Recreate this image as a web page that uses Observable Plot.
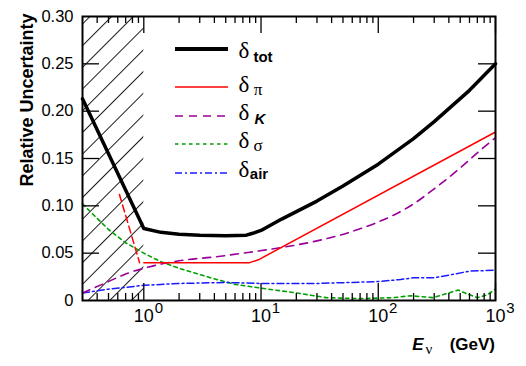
<!DOCTYPE html>
<html><head><meta charset="utf-8">
<script src="https://cdn.jsdelivr.net/npm/d3@7"></script>
<script src="https://cdn.jsdelivr.net/npm/@observablehq/plot@0.6"></script>
<style>body{margin:0;background:#fff;} svg{display:block}</style>
</head><body><div id="chart"></div>
<script>
// ---- data ----
const totE = [0.3, 1, 1.4, 2, 3, 5, 7.5, 8.5, 10, 15, 30, 50, 100, 200, 300, 600, 1000];
const totV = [0.213, 0.076, 0.072, 0.070, 0.069, 0.0685, 0.069, 0.071, 0.074, 0.086, 0.105, 0.121, 0.144, 0.171, 0.189, 0.222, 0.250];

const piE = [1, 8, 9.5, 1000];
const piV = [0.040, 0.040, 0.043, 0.178];
const piLowE = [0.62, 0.92];          // dashed part below 1 GeV
const piLowV = [0.112, 0.040];

const kE = [0.3, 0.5, 0.7, 1, 2, 4, 8, 15, 30, 60, 100, 150, 200, 300, 500, 700, 1000];
const kV = [0.008, 0.020, 0.028, 0.034, 0.042, 0.046, 0.051, 0.056, 0.063, 0.073, 0.083, 0.093, 0.102, 0.118, 0.140, 0.156, 0.172];

const sigE = [0.3, 0.5, 0.7, 1, 1.4, 2, 3.7, 6, 10, 20, 36, 70, 135, 188, 295, 480, 600, 700, 850, 1000];
const sigV = [0.102, 0.075, 0.061, 0.050, 0.041, 0.034, 0.024, 0.017, 0.013, 0.008, 0.003, 0.002, 0.003, 0.005, 0.003, 0.011, 0.006, 0.003, 0.006, 0.012];

const airE = [0.3, 0.5, 1, 2, 5, 10, 30, 100, 150, 200, 300, 450, 600, 1000];
const airV = [0.008, 0.012, 0.016, 0.018, 0.019, 0.018, 0.018, 0.020, 0.022, 0.024, 0.024, 0.028, 0.031, 0.032];

const hatchRange = [0.3, 1];          // excluded region (E < 1 GeV)
const xDomain = [0.3, 1000];
const yDomain = [0, 0.30];
const xDecades = [1, 10, 100, 1000];
const xExponents = ["0", "1", "2", "3"];
const xMinor = [0.4,0.5,0.6,0.7,0.8,0.9, 2,3,4,5,6,7,8,9, 20,30,40,50,60,70,80,90, 200,300,400,500,600,700,800,900];
const yTicks = [0, 0.05, 0.10, 0.15, 0.20, 0.25, 0.30];
const yInner = [0.05, 0.10, 0.15, 0.20, 0.25];
const legendSubs = ["tot", "π", "K", "σ", "air"];

// ---- layout ----
const W = 526, H = 366, mL = 82, mR = 31, mT = 16, mB = 66;
const FW = W - mL - mR, FH = H - mT - mB;
const zip = (E, V) => E.map((e, i) => ({E: e, v: V[i]}));
const font = "Liberation Sans, Arial, sans-serif";

const chart = Plot.plot({
  width: W, height: H,
  marginLeft: mL, marginRight: mR, marginTop: mT, marginBottom: mB,
  style: {fontFamily: font, background: "#fff", color: "#000"},
  x: {type: "log", domain: xDomain, axis: null},
  y: {domain: yDomain, axis: null},
  marks: [
    Plot.rect([hatchRange], {x1: d => d[0], x2: d => d[1], y1: yDomain[0], y2: yDomain[1], fill: "url(#hatch)"}),
    Plot.line(zip(sigE, sigV), {x: "E", y: "v", stroke: "#00a000", strokeWidth: 1.6, strokeDasharray: "3.5,3.5"}),
    Plot.line(zip(airE, airV), {x: "E", y: "v", stroke: "#1a1aff", strokeWidth: 1.5, strokeDasharray: "7,3,2,3"}),
    Plot.line(zip(kE, kV), {x: "E", y: "v", stroke: "#990099", strokeWidth: 1.6, strokeDasharray: "8,6", curve: "monotone-x"}),
    Plot.line(zip(piLowE, piLowV), {x: "E", y: "v", stroke: "#ff0000", strokeWidth: 1.5, strokeDasharray: "7,4"}),
    Plot.line(zip(piE, piV), {x: "E", y: "v", stroke: "#ff0000", strokeWidth: 1.5}),
    Plot.line(zip(totE, totV), {x: "E", y: "v", stroke: "#000", strokeWidth: 3.5}),
    // inward ticks
    Plot.ruleX(xDecades, {x: d => d, insetTop: FH - 17, stroke: "#000", strokeWidth: 1.3}),
    Plot.ruleX(xDecades, {x: d => d, insetBottom: FH - 17, stroke: "#000", strokeWidth: 1.3}),
    Plot.ruleX(xMinor, {x: d => d, insetTop: FH - 7, stroke: "#000", strokeWidth: 1.3}),
    Plot.ruleX(xMinor, {x: d => d, insetBottom: FH - 7, stroke: "#000", strokeWidth: 1.3}),
    Plot.ruleY(yInner, {y: d => d, insetRight: FW - 17, stroke: "#000", strokeWidth: 1.3}),
    Plot.ruleY(yInner, {y: d => d, insetLeft: FW - 17, stroke: "#000", strokeWidth: 1.3}),
    Plot.frame({stroke: "#000", strokeWidth: 2}),
    Plot.axisY(yTicks, {tickSize: 0, tickPadding: 9, fontSize: 16.5, label: null,
      tickFormat: d => d === 0 ? "0" : d.toFixed(2)}),
    Plot.text(xDecades, {x: d => d, frameAnchor: "bottom", dy: 21, text: () => "10", fontSize: 18, fill: "#000"}),
    Plot.text(xDecades, {x: d => d, frameAnchor: "bottom", dy: 12, dx: 15, text: (d, i) => xExponents[i], fontSize: 15, fill: "#000"})
  ]
});

document.getElementById("chart").appendChild(chart);
const svg = d3.select(chart);

// hatch pattern
const sp = 15.34;
svg.insert("defs", ":first-child").append("pattern")
  .attr("id", "hatch").attr("patternUnits", "userSpaceOnUse")
  .attr("width", sp).attr("height", sp)
  .attr("patternTransform", "rotate(45)")
  .append("line").attr("x1", 13.94).attr("x2", 13.94).attr("y1", -1).attr("y2", sp + 1)
  .attr("stroke", "#000").attr("stroke-width", 0.9);

// legend
const legendStyles = [
  {stroke: "#000", w: 4, dash: null},
  {stroke: "#ff0000", w: 1.5, dash: null},
  {stroke: "#990099", w: 1.6, dash: "8,6"},
  {stroke: "#00a000", w: 1.6, dash: "3.5,3.5"},
  {stroke: "#1a1aff", w: 1.5, dash: "7,3,2,3"}
];
const legY = [49, 87, 116, 144, 173];
const dBase = [58, 92, 120, 148, 177];
const sBase = [62, 95, 124, 151, 179];
const subStyle = [
  {family: font, weight: "bold", style: "normal", size: 15, x: 263},
  {family: "Liberation Serif, serif", weight: "normal", style: "normal", size: 17, x: 258},
  {family: font, weight: "bold", style: "italic", size: 15, x: 260},
  {family: "Liberation Serif, serif", weight: "normal", style: "normal", size: 17, x: 258},
  {family: font, weight: "bold", style: "normal", size: 15, x: 259}
];
const lg = svg.append("g");
legendSubs.forEach((s, i) => {
  const st = legendStyles[i];
  const l = lg.append("line").attr("x1", 175).attr("x2", 228).attr("y1", legY[i]).attr("y2", legY[i])
    .attr("stroke", st.stroke).attr("stroke-width", st.w);
  if (st.dash) l.attr("stroke-dasharray", st.dash);
  lg.append("text").attr("x", 244).attr("y", dBase[i]).attr("font-family", "Liberation Serif, serif")
    .attr("font-size", 23).attr("fill", "#000").text("δ");
  const ss = subStyle[i];
  lg.append("text").attr("x", ss.x).attr("y", sBase[i]).attr("font-family", ss.family)
    .attr("font-weight", ss.weight).attr("font-style", ss.style).attr("font-size", ss.size)
    .attr("fill", "#000").text(s);
});

// y-axis title
svg.append("text").attr("transform", "translate(33,100) rotate(-90)")
  .attr("text-anchor", "middle").attr("font-family", font).attr("font-weight", "bold")
  .attr("font-size", 18).attr("fill", "#000").text("Relative Uncertainty");

// x-axis title
const xt = svg.append("g").attr("font-family", font).attr("fill", "#000");
xt.append("text").attr("x", 418).attr("y", 350).attr("font-weight", "bold").attr("font-style", "italic")
  .attr("font-size", 17).text("E");
xt.append("text").attr("x", 429).attr("y", 354).attr("font-family", "Liberation Serif, serif")
  .attr("font-size", 15).text("ν");
xt.append("text").attr("x", 495).attr("y", 350).attr("text-anchor", "end").attr("font-weight", "bold")
  .attr("font-size", 17).text("(GeV)");
</script>
</body></html>
